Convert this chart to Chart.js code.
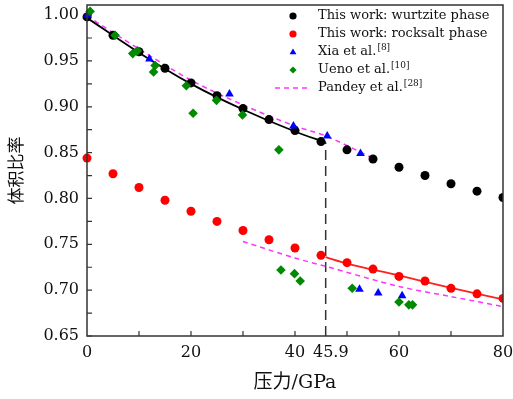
<!DOCTYPE html>
<html>
<head>
<meta charset="utf-8">
<script src="https://cdn.jsdelivr.net/npm/chart.js@4.4.1/dist/chart.umd.min.js"></script>
<style>
html, body { margin: 0; padding: 0; background: #fff; }
#wrap { width: 513px; height: 399px; }
</style>
</head>
<body>
<div id="wrap"><canvas id="myChart"></canvas></div>
<script>
// data
const pressure  = [0, 5, 10, 15, 20, 25, 30, 35, 40, 45, 50, 55, 60, 65, 70, 75, 80];
const wurtzite  = [0.998, 0.978, 0.960, 0.942, 0.926, 0.912, 0.898, 0.886, 0.874, 0.862, 0.853, 0.843, 0.834, 0.825, 0.816, 0.808, 0.801];
const rocksalt  = [0.844, 0.827, 0.812, 0.798, 0.786, 0.775, 0.765, 0.755, 0.746, 0.738, 0.730, 0.723, 0.715, 0.710, 0.702, 0.696, 0.691];

const xiaP = [0.1, 12.0, 27.4, 39.7, 46.2, 52.6, 52.4, 56.0, 60.6];
const xiaV = [1.000, 0.952, 0.914, 0.879, 0.868, 0.849, 0.701, 0.697, 0.694];

const uenoP = [0.6, 5.4, 8.8, 9.7, 12.8, 13.1, 19.1, 20.4, 24.9, 29.9, 36.9, 37.3, 39.9, 41.0, 51.0, 60.0, 61.9, 62.6];
const uenoV = [1.004, 0.978, 0.958, 0.961, 0.938, 0.945, 0.923, 0.893, 0.907, 0.891, 0.853, 0.722, 0.718, 0.710, 0.702, 0.687, 0.684, 0.684];

const pandeyWzP = [0, 10, 20, 30, 40, 46, 55];
const pandeyWzV = [0.999, 0.963, 0.929, 0.902, 0.879, 0.868, 0.844];
const pandeyRsP = [30, 40, 45.9, 60, 70, 80];
const pandeyRsV = [0.753, 0.735, 0.726, 0.704, 0.693, 0.682];

const wzFitP = [0, 10, 20, 30, 40, 45.9];
const wzFitV = [0.997, 0.959, 0.925, 0.897, 0.873, 0.861];
const rsFitP = [45.9, 50, 60, 70, 80];
const rsFitV = [0.736, 0.729, 0.716, 0.7025, 0.690];

const transP = 45.9;
const transV = [0.65, 0.861];

const seriesNames = ['This work: wurtzite phase', 'This work: rocksalt phase', 'Xia et al.', 'Ueno et al.', 'Pandey et al.'];
const seriesRefs  = ['', '', '[8]', '[10]', '[28]'];

const xTickLabels = [0, 20, 40, 45.9, 60, 80];
const xMinorTicks = [10, 30, 50, 70];
const yTickLabels = [0.65, 0.70, 0.75, 0.80, 0.85, 0.90, 0.95, 1.00];
const yMinorTicks = [0.675, 0.725, 0.775, 0.825, 0.875, 0.925, 0.975];

const xTitle = '压力/GPa';
const yTitle = '体积比率';

const pts = (xs, ys) => xs.map((x, i) => ({x: x, y: ys[i]}));
const serif = "'DejaVu Serif', 'Noto Sans CJK SC', serif";
const keepRight = {left: false, top: false, right: 0, bottom: false};

// frame + inward ticks
function drawFrame(chart) {
	const ctx = chart.ctx, a = chart.chartArea;
	const xs = chart.scales.x, ys = chart.scales.y;
	ctx.save();
	ctx.setLineDash([]);
	ctx.strokeStyle = '#333';
	ctx.lineWidth = 1.5;
	ctx.strokeRect(a.left, a.top, a.right - a.left, a.bottom - a.top);
	ctx.lineWidth = 1.2;
	ctx.beginPath();
	for (let v of yTickLabels.concat(yMinorTicks)) {
		const y = ys.getPixelForValue(v);
		ctx.moveTo(a.left, y);
		ctx.lineTo(a.left + 5, y);
	}
	for (let v of [20, 40, 60].concat(xMinorTicks)) {
		const x = xs.getPixelForValue(v);
		ctx.moveTo(x, a.bottom);
		ctx.lineTo(x, a.bottom - 5);
	}
	ctx.stroke();
	ctx.restore();
}

function drawMarker(ctx, style, x, y, r, color) {
	ctx.fillStyle = color;
	ctx.beginPath();
	if (style == 'triangle') {
		ctx.moveTo(x, y - r);
		ctx.lineTo(x + r * 0.95, y + r * 0.65);
		ctx.lineTo(x - r * 0.95, y + r * 0.65);
	} else if (style == 'rectRot') {
		ctx.moveTo(x, y - r);
		ctx.lineTo(x + r, y);
		ctx.lineTo(x, y + r);
		ctx.lineTo(x - r, y);
	} else {
		ctx.arc(x, y, r, 0, Math.PI * 2);
	}
	ctx.closePath();
	ctx.fill();
}

// frame, then legend with superscript references
const texPlugin = {
	id: 'texLegend',
	afterDraw(chart) {
		drawFrame(chart);
		const ctx = chart.ctx;
		const x0 = 293, tx = 318, y0 = 16, dy = 18;
		ctx.save();
		ctx.textBaseline = 'middle';
		for (let i = 0; i < seriesNames.length; i++) {
			const ds = chart.data.datasets[i];
			const y = y0 + i * dy;
			if (ds.showLine) {
				ctx.strokeStyle = ds.borderColor;
				ctx.lineWidth = ds.borderWidth;
				ctx.setLineDash(ds.borderDash);
				ctx.beginPath();
				ctx.moveTo(x0 - 18, y);
				ctx.lineTo(x0 + 17, y);
				ctx.stroke();
				ctx.setLineDash([]);
			} else {
				drawMarker(ctx, ds.pointStyle, x0, y, 3.6, ds.backgroundColor);
			}
			ctx.fillStyle = '#111';
			ctx.font = '13px ' + serif;
			ctx.fillText(seriesNames[i], tx, y);
			if (seriesRefs[i]) {
				const w = ctx.measureText(seriesNames[i]).width;
				ctx.font = '9px ' + serif;
				ctx.fillText(seriesRefs[i], tx + w + 1, y - 4);
			}
		}
		ctx.restore();
	}
};

const canvas = document.getElementById('myChart');
const myChart = new Chart(canvas, {
	type: 'scatter',
	data: {
		datasets: [
			{label: seriesNames[0], data: pts(pressure, wurtzite), pointStyle: 'circle', pointRadius: 4.5,
				backgroundColor: '#000', borderWidth: 0, clip: keepRight, order: 4},
			{label: seriesNames[1], data: pts(pressure, rocksalt), pointStyle: 'circle', pointRadius: 4.5,
				backgroundColor: '#ff0000', borderWidth: 0, clip: keepRight, order: 3},
			{label: seriesNames[2], data: pts(xiaP, xiaV), pointStyle: 'triangle', pointRadius: 5,
				backgroundColor: '#0000ff', borderColor: '#0000ff', borderWidth: 0, clip: keepRight, order: 2},
			{label: seriesNames[3], data: pts(uenoP, uenoV), pointStyle: 'rectRot', pointRadius: 4.8,
				backgroundColor: '#008a00', borderWidth: 0, clip: keepRight, order: 1},
			{label: seriesNames[4], data: pts(pandeyWzP, pandeyWzV), showLine: true, pointRadius: 0,
				borderColor: '#ff33ff', borderWidth: 1.5, borderDash: [5, 4], tension: 0.3, order: 6},
			{label: 'pandey rs', data: pts(pandeyRsP, pandeyRsV), showLine: true, pointRadius: 0,
				borderColor: '#ff33ff', borderWidth: 1.5, borderDash: [5, 4], tension: 0.3, order: 6},
			{label: 'wz fit', data: pts(wzFitP, wzFitV), showLine: true, pointRadius: 0,
				borderColor: '#000', borderWidth: 1.8, cubicInterpolationMode: 'monotone', order: 5},
			{label: 'rs fit', data: pts(rsFitP, rsFitV), showLine: true, pointRadius: 0,
				borderColor: '#ff2020', borderWidth: 1.8, cubicInterpolationMode: 'monotone', order: 5},
			{label: 'transition', data: transV.map(v => ({x: transP, y: v})), showLine: true, pointRadius: 0,
				borderColor: '#333', borderWidth: 1.5, borderDash: [10, 6], order: 7}
		]
	},
	options: {
		responsive: true,
		maintainAspectRatio: false,
		animation: false,
		layout: {padding: {top: 3, right: 10, left: 0, bottom: 0}},
		plugins: {legend: {display: false}, tooltip: {enabled: false}},
		scales: {
			x: {
				type: 'linear', min: 0, max: 80,
				grid: {display: false, drawTicks: false}, border: {display: false},
				afterBuildTicks: s => { s.ticks = xTickLabels.map(v => ({value: v})); },
				afterFit: s => { s.height = 63; s.paddingLeft = 0; s.paddingRight = 0; },
				ticks: {
					autoSkip: false, maxRotation: 0, padding: 7, color: '#111',
					font: {family: serif, size: 16},
					callback: v => v == 45.9 ? '  45.9' : String(v)
				},
				title: {display: true, text: xTitle, color: '#111', font: {family: serif, size: 19}, padding: {top: 0, bottom: 5}}
			},
			y: {
				type: 'linear', min: 0.65, max: 1.011,
				grid: {display: false, drawTicks: false}, border: {display: false},
				afterBuildTicks: s => { s.ticks = yTickLabels.map(v => ({value: v})); },
				afterFit: s => { s.width = 87; s.paddingTop = 0; s.paddingBottom = 0; },
				ticks: {
					autoSkip: false, padding: 8, color: '#111',
					font: {family: serif, size: 16},
					callback: v => v.toFixed(2)
				},
				title: {display: true, text: yTitle, color: '#111', font: {family: serif, size: 17}, padding: {top: 7, bottom: 0}}
			}
		}
	},
	plugins: [texPlugin]
});
</script>
</body>
</html>
